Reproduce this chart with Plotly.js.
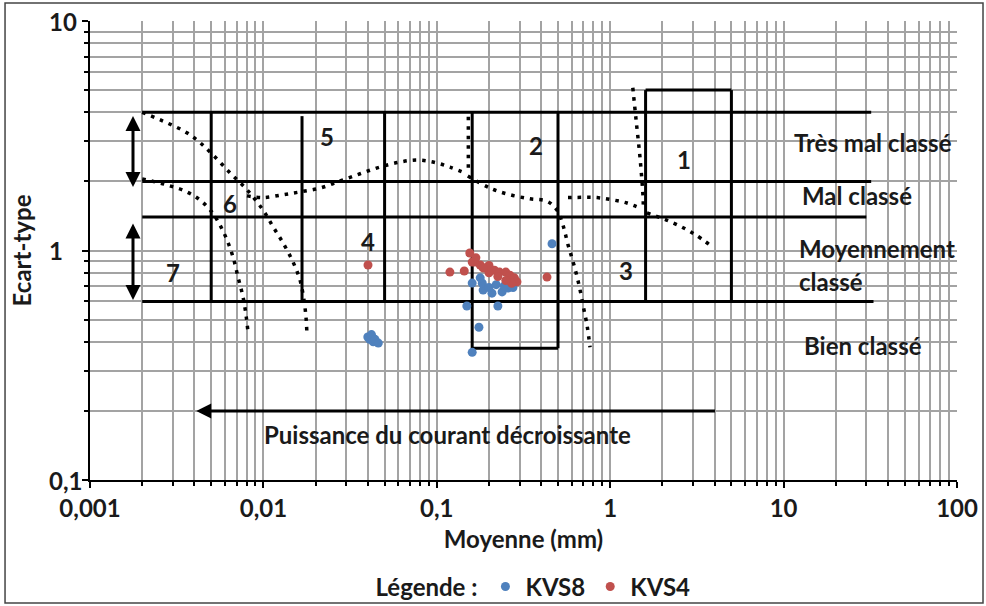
<!DOCTYPE html>
<html>
<head>
<meta charset="utf-8">
<script src="https://cdn.plot.ly/plotly-3.0.1.min.js"></script>
<style>html,body{margin:0;padding:0;background:#fff;}#chart{width:986px;height:606px;}</style>
</head>
<body>
<div id="chart"></div>
<script>
// ---- Tick labels ----
const xTickVals = [0.001, 0.01, 0.1, 1, 10, 100];
const xTickText = ['0,001', '0,01', '0,1', '1', '10', '100'];
const yTickVals = [0.1, 1, 10];
const yTickText = ['0,1', '1', '10'];

// ---- Samples ----
const kvs8X = [0.040, 0.041, 0.042, 0.043, 0.044, 0.046, 0.160, 0.462, 0.149, 0.175, 0.225, 0.160, 0.185, 0.208, 0.238, 0.257, 0.275, 0.183, 0.178, 0.200, 0.220, 0.245];
const kvs8Y = [0.420, 0.410, 0.430, 0.400, 0.410, 0.395, 0.360, 1.070, 0.573, 0.463, 0.573, 0.721, 0.672, 0.652, 0.660, 0.686, 0.690, 0.720, 0.760, 0.690, 0.710, 0.700];
const kvs4X = [0.0401, 0.119, 0.144, 0.432, 0.155, 0.166, 0.178, 0.190, 0.200, 0.215, 0.230, 0.250, 0.264, 0.280, 0.290, 0.270, 0.250, 0.225, 0.200, 0.185, 0.168, 0.160];
const kvs4Y = [0.865, 0.805, 0.814, 0.766, 0.975, 0.890, 0.865, 0.840, 0.860, 0.820, 0.805, 0.805, 0.780, 0.760, 0.730, 0.720, 0.740, 0.770, 0.800, 0.840, 0.930, 0.890];

// ---- Classification grid (solid lines) ----
const hLineY  = [4, 2, 1.4, 0.6, 0.375, 5];
const hLineX0 = [0.002, 0.002, 0.002, 0.002, 0.16, 1.6];
const hLineX1 = [32, 32, 30, 33, 0.5, 5];
const vLineX  = [0.005, 0.0167, 0.05, 0.16, 0.5, 1.6, 5];
const vLineY0 = [4, 3.85, 4, 4, 4, 5, 5];
const vLineY1 = [0.6, 0.6, 0.6, 0.375, 0.375, 0.6, 0.6];

// ---- Dotted curves ----
const curveAx = [0.002, 0.00278, 0.00362, 0.00431, 0.00512, 0.00642, 0.00804, 0.00995, 0.01136, 0.01297, 0.01482, 0.01626, 0.01714, 0.01762, 0.0178];
const curveAy = [4.0, 3.6, 3.26, 2.95, 2.61, 2.18, 1.84, 1.50, 1.27, 1.08, 0.891, 0.743, 0.608, 0.508, 0.445];
const curveBx = [0.002, 0.00278, 0.00362, 0.00431, 0.00505, 0.00562, 0.00617, 0.00668, 0.00714, 0.00763, 0.00794, 0.00815];
const curveBy = [2.05, 1.93, 1.80, 1.66, 1.47, 1.29, 1.11, 0.937, 0.766, 0.627, 0.523, 0.441];
const curveCx = [0.00804, 0.00995, 0.01297, 0.01626, 0.0212, 0.0277, 0.0361, 0.047, 0.0614, 0.0769, 0.0951, 0.119, 0.149];
const curveCy = [1.73, 1.70, 1.75, 1.80, 1.87, 2.01, 2.16, 2.31, 2.43, 2.48, 2.43, 2.31, 2.16];
const curveVx = [0.152, 0.152];
const curveVy = [3.83, 2.16];
const curveDx = [0.151, 0.203, 0.264, 0.345, 0.432, 0.493, 0.534, 0.571, 0.618, 0.661, 0.697, 0.735, 0.765];
const curveDy = [2.11, 1.87, 1.75, 1.68, 1.64, 1.50, 1.29, 1.06, 0.865, 0.707, 0.578, 0.473, 0.379];
const curveEx = [0.571, 0.839, 1.04, 1.25, 1.49];
const curveEy = [1.70, 1.70, 1.66, 1.61, 1.53];
const curveFx = [1.35, 1.41, 1.49, 1.55, 1.55];
const curveFy = [5.12, 3.71, 2.48, 1.66, 1.55];
const curveGx = [1.63, 2.30, 3.00, 3.87];
const curveGy = [1.46, 1.32, 1.19, 1.04];

// ---- Labels ----
const zoneText = ['1', '2', '3', '4', '5', '6', '7'];
const zoneX = [2.67, 0.373, 1.23, 0.0401, 0.0233, 0.0064, 0.00301];
const zoneY = [2.48, 2.86, 0.822, 1.10, 3.13, 1.61, 0.805];
const classText = ['Très mal classé', 'Mal classé', 'Moyennement', 'classé', 'Bien classé'];
const classX = [11.2, 12.4, 11.9, 11.9, 12.8];
const classY = [2.95, 1.73, 1.025, 0.736, 0.387];
const flowText = 'Puissance du courant décroissante';
const flowX = 0.116, flowY = 0.158;
const flowArrowFrom = 4.1, flowArrowTo = 0.0041, flowArrowY = 0.2;
const sortArrowX = 0.00177;
const sortArrowTop = [3.91, 1.89];
const sortArrowBottom = [1.33, 0.608];

// ---- build ----
const FONT = 'Lato, "Open Sans", sans-serif';
const FS = 24;
const txtFont = {family: FONT, size: FS, color: '#1a1a1a', weight: 700};
function segs(xs0, xs1, ys0, ys1) {
  const X = [], Y = [];
  for (let i = 0; i < xs0.length; i++) { X.push(xs0[i], xs1[i], null); Y.push(ys0[i], ys1[i], null); }
  return [X, Y];
}
const [hx, hy] = segs(hLineX0, hLineX1, hLineY, hLineY);
const [vx, vy] = segs(vLineX, vLineX, vLineY0, vLineY1);
const gridX = hx.concat(vx), gridY = hy.concat(vy);

const curves = [[curveAx, curveAy], [curveBx, curveBy], [curveCx, curveCy], [curveVx, curveVy], [curveDx, curveDy], [curveEx, curveEy], [curveFx, curveFy], [curveGx, curveGy]];

const traces = [];
traces.push({x: gridX, y: gridY, mode: 'lines', line: {color: '#000', width: 3}, showlegend: false, hoverinfo: 'skip'});
curves.forEach(c => traces.push({x: c[0], y: c[1], mode: 'lines', line: {color: '#000', width: 3.5, dash: '3.5px,6px', shape: 'spline'}, showlegend: false, hoverinfo: 'skip'}));
traces.push({x: kvs8X, y: kvs8Y, mode: 'markers', name: 'KVS8', marker: {color: '#4F81BD', size: 9}});
traces.push({x: kvs4X, y: kvs4Y, mode: 'markers', name: 'KVS4', marker: {color: '#C0504D', size: 9}});

function minorVals(lo, hi) {
  const v = [];
  for (let d = lo; d < hi; d++) for (let k = 2; k <= 9; k++) v.push(k * Math.pow(10, d));
  return v;
}

const L = Math.log10;
const annotations = [];
zoneText.forEach((t, i) => annotations.push({x: L(zoneX[i]), y: L(zoneY[i]), text: t, showarrow: false, font: txtFont}));
classText.forEach((t, i) => annotations.push({x: L(classX[i]), y: L(classY[i]), text: t, xanchor: 'left', showarrow: false, font: txtFont}));
annotations.push({x: L(flowX), y: L(flowY), text: flowText, showarrow: false, font: txtFont});
// y tick labels (left-aligned as in the original)
yTickVals.forEach((v, i) => annotations.push({xref: 'paper', x: -0.0496, xanchor: 'left', yref: 'y', y: L(v), text: yTickText[i], showarrow: false, font: txtFont}));
const arrowBase = {xref: 'x', yref: 'y', axref: 'x', ayref: 'y', text: '', showarrow: true, arrowcolor: '#000', arrowwidth: 3, arrowhead: 2, arrowsize: 1, standoff: 0, startstandoff: 0};
annotations.push(Object.assign({}, arrowBase, {x: L(flowArrowTo), y: L(flowArrowY), ax: L(flowArrowFrom), ay: L(flowArrowY)}));
annotations.push(Object.assign({}, arrowBase, {x: L(sortArrowX), y: L(sortArrowTop[1]), ax: L(sortArrowX), ay: L(sortArrowTop[0]), arrowside: 'end+start', startarrowhead: 2, startarrowsize: 1}));
annotations.push(Object.assign({}, arrowBase, {x: L(sortArrowX), y: L(sortArrowBottom[1]), ax: L(sortArrowX), ay: L(sortArrowBottom[0]), arrowside: 'end+start', startarrowhead: 2, startarrowsize: 1}));

const layout = {
  width: 986, height: 606,
  margin: {l: 90, r: 29, t: 21, b: 126, autoexpand: false},
  paper_bgcolor: '#fff', plot_bgcolor: '#fff',
  showlegend: true,
  legend: {orientation: 'h', x: 0.327, xanchor: 'left', y: -0.233, yanchor: 'middle', bgcolor: 'rgba(0,0,0,0)',
           title: {text: 'Légende :', side: 'left', font: txtFont},
           font: txtFont, itemwidth: 30, tracegroupgap: 0},
  xaxis: {type: 'log', range: [-3, 2], tickmode: 'array', tickvals: xTickVals, ticktext: xTickText, automargin: false,
          tickfont: txtFont, showline: true, linecolor: '#000', linewidth: 2, ticks: 'outside', ticklen: 6, tickwidth: 2, tickcolor: '#000',
          showgrid: true, gridcolor: '#a3a3a3', gridwidth: 2, zeroline: false,
          minor: {tickmode: 'array', tickvals: minorVals(-3, 2), showgrid: true, gridcolor: '#a3a3a3', gridwidth: 2, ticks: 'outside', ticklen: 4, tickwidth: 2, tickcolor: '#000'},
          title: {text: 'Moyenne (mm)', font: txtFont, standoff: 10}},
  yaxis: {type: 'log', range: [-1, 1], tickmode: 'array', tickvals: yTickVals, showticklabels: false, automargin: false,
          showline: true, linecolor: '#000', linewidth: 2, ticks: 'outside', ticklen: 6, tickwidth: 2, tickcolor: '#000',
          showgrid: true, gridcolor: '#a3a3a3', gridwidth: 2, zeroline: false,
          minor: {tickmode: 'array', tickvals: minorVals(-1, 1), showgrid: true, gridcolor: '#a3a3a3', gridwidth: 2, ticks: 'outside', ticklen: 4, tickwidth: 2, tickcolor: '#000'},
          title: {text: 'Ecart-type', font: txtFont, standoff: 44}},
  annotations: annotations,
  shapes: [{type: 'rect', xref: 'paper', yref: 'paper', x0: -0.098, x1: 1.03, y0: -0.268, y1: 1.039, line: {color: '#444', width: 1.5}}]
};
Plotly.newPlot('chart', traces, layout, {displayModeBar: false, staticPlot: true});
</script>
</body>
</html>
